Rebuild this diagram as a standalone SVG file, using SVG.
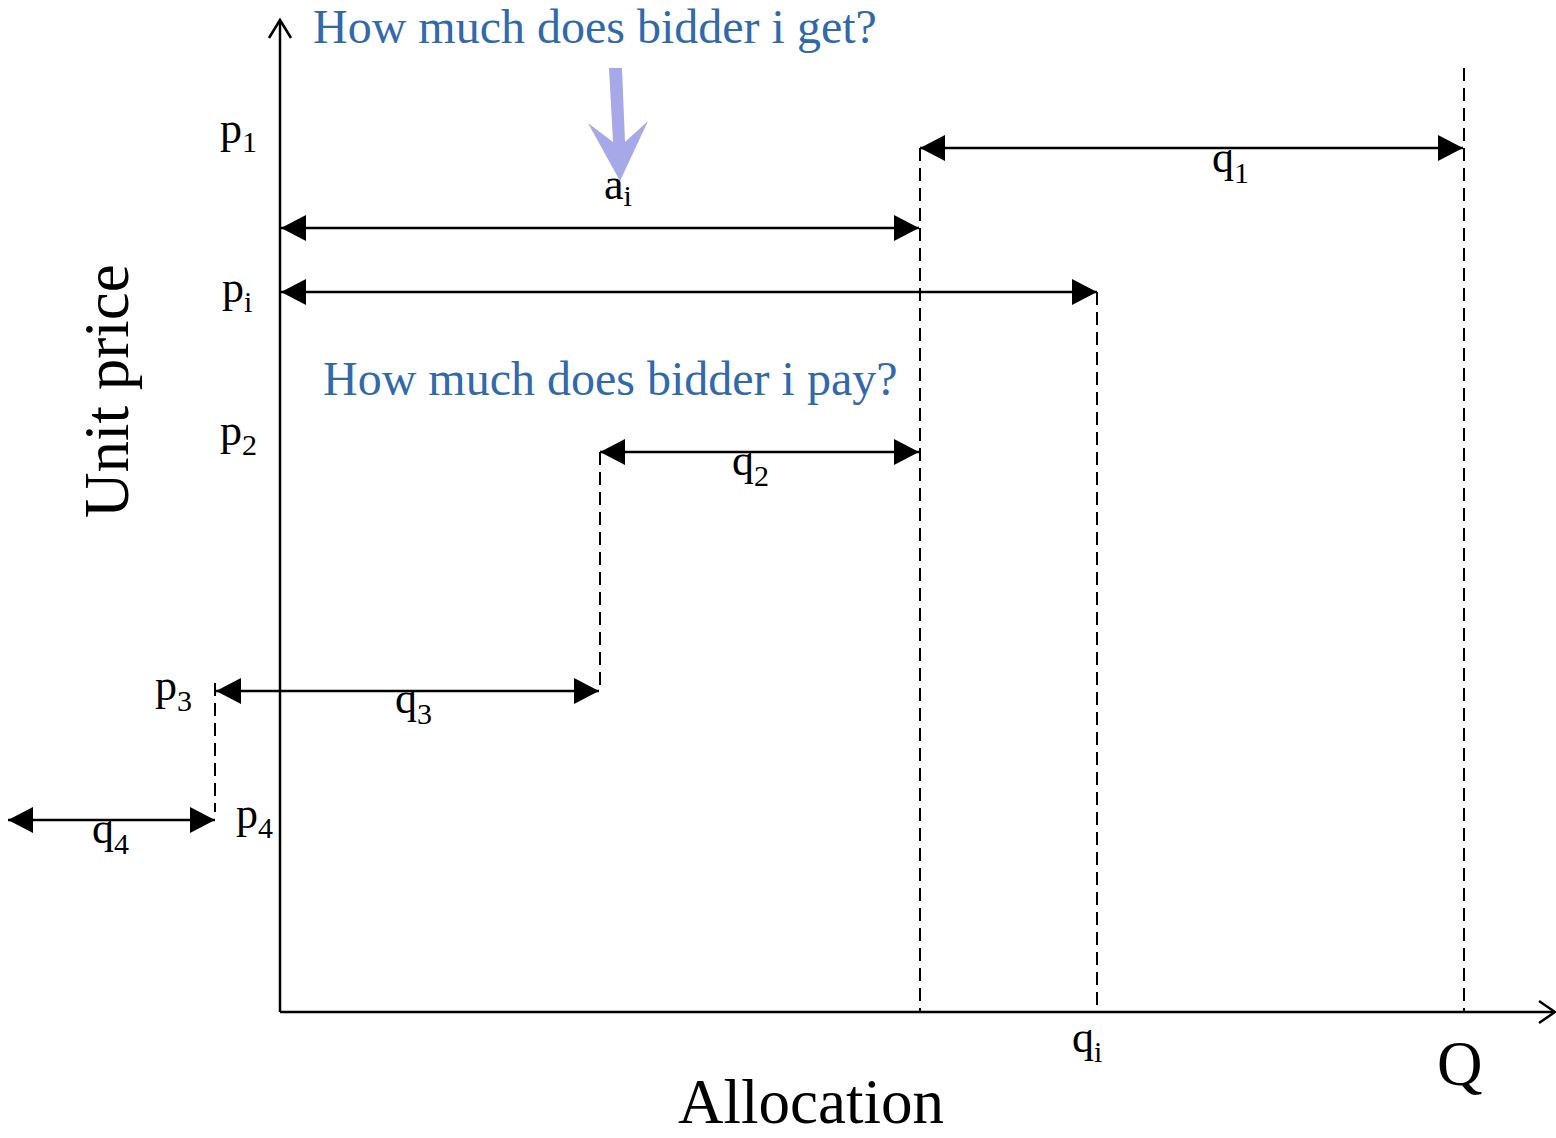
<svg xmlns="http://www.w3.org/2000/svg" width="1556" height="1138" viewBox="0 0 1556 1138">
<style>
.t{font-family:"Liberation Serif","Times New Roman",serif;fill:#000}
.lbl{font-size:44px}
.sub{font-size:30px}
.blue{font-family:"Liberation Serif","Times New Roman",serif;font-size:48px;fill:#3169AB}
.big{font-size:63px}
.ax{stroke:#000;stroke-width:2.5;fill:none}
.dim{stroke:#000;stroke-width:2.5;fill:none;marker-start:url(#tri);marker-end:url(#tri)}
.dash{stroke:#000;stroke-width:2;fill:none;stroke-dasharray:13 7}
</style>
<defs>
<marker id="tri" markerUnits="userSpaceOnUse" markerWidth="26" markerHeight="28" refX="25" refY="13" orient="auto-start-reverse" viewBox="0 0 26 26">
<path d="M0,0 L25,13 L0,26 Z" fill="#000"/>
</marker>
</defs>
<rect width="1556" height="1138" fill="#fff"/>
<g id="axes">
<path class="ax" d="M280,1012 V21"/>
<path class="ax" d="M269,38 L280,20 L291,38"/>
<path class="ax" d="M280,1012 H1554"/>
<path class="ax" d="M1539,1001 L1555,1012 L1539,1023"/>
</g>
<g id="connectors">
<path class="dash" d="M920,148 V1012"/>
<path class="dash" d="M1097,292 V1012"/>
<path class="dash" d="M1464,68 V1012"/>
<path class="dash" d="M600,452 V691"/>
<path class="dash" d="M215,683 V812"/>
<path class="dim" d="M920,148 H1463"/>
<path class="dim" d="M281,228 H919"/>
<path class="dim" d="M281,292 H1097"/>
<path class="dim" d="M600,452 H919"/>
<path class="dim" d="M216,691 H599"/>
<path class="dim" d="M8,820 H215"/>
</g>
<g id="pointer">
<path d="M609,68 L622,68 L625,142 L648,121 L620,181 L588,123 L613,142 Z" fill="#A6A8E8"/>
</g>
<g id="question-get"><text class="blue" x="313" y="43">How much does bidder i get?</text></g>
<g id="question-pay"><text class="blue" x="323" y="395">How much does bidder i pay?</text></g>
<g id="labels">
<text class="t lbl" x="220" y="143">p<tspan class="sub" dy="9">1</tspan></text>
<text class="t lbl" x="222" y="302">p<tspan class="sub" dy="10">i</tspan></text>
<text class="t lbl" x="220" y="445">p<tspan class="sub" dy="10">2</tspan></text>
<text class="t lbl" x="155" y="700">p<tspan class="sub" dy="11">3</tspan></text>
<text class="t lbl" x="236" y="828">p<tspan class="sub" dy="10">4</tspan></text>
<text class="t lbl" x="1212" y="172">q<tspan class="sub" dy="11">1</tspan></text>
<text class="t lbl" x="604" y="199">a<tspan class="sub" dy="7">i</tspan></text>
<text class="t lbl" x="732" y="475">q<tspan class="sub" dy="11">2</tspan></text>
<text class="t lbl" x="395" y="713">q<tspan class="sub" dy="11">3</tspan></text>
<text class="t lbl" x="92" y="843">q<tspan class="sub" dy="11">4</tspan></text>
<text class="t lbl" x="1072" y="1052">q<tspan class="sub" dy="10">i</tspan></text>
<text class="t big" x="1437" y="1085">Q</text>
<text class="t big" x="678" y="1123">Allocation</text>
<text class="t big" transform="translate(128,518) rotate(-90)">Unit price</text>
</g>
</svg>
